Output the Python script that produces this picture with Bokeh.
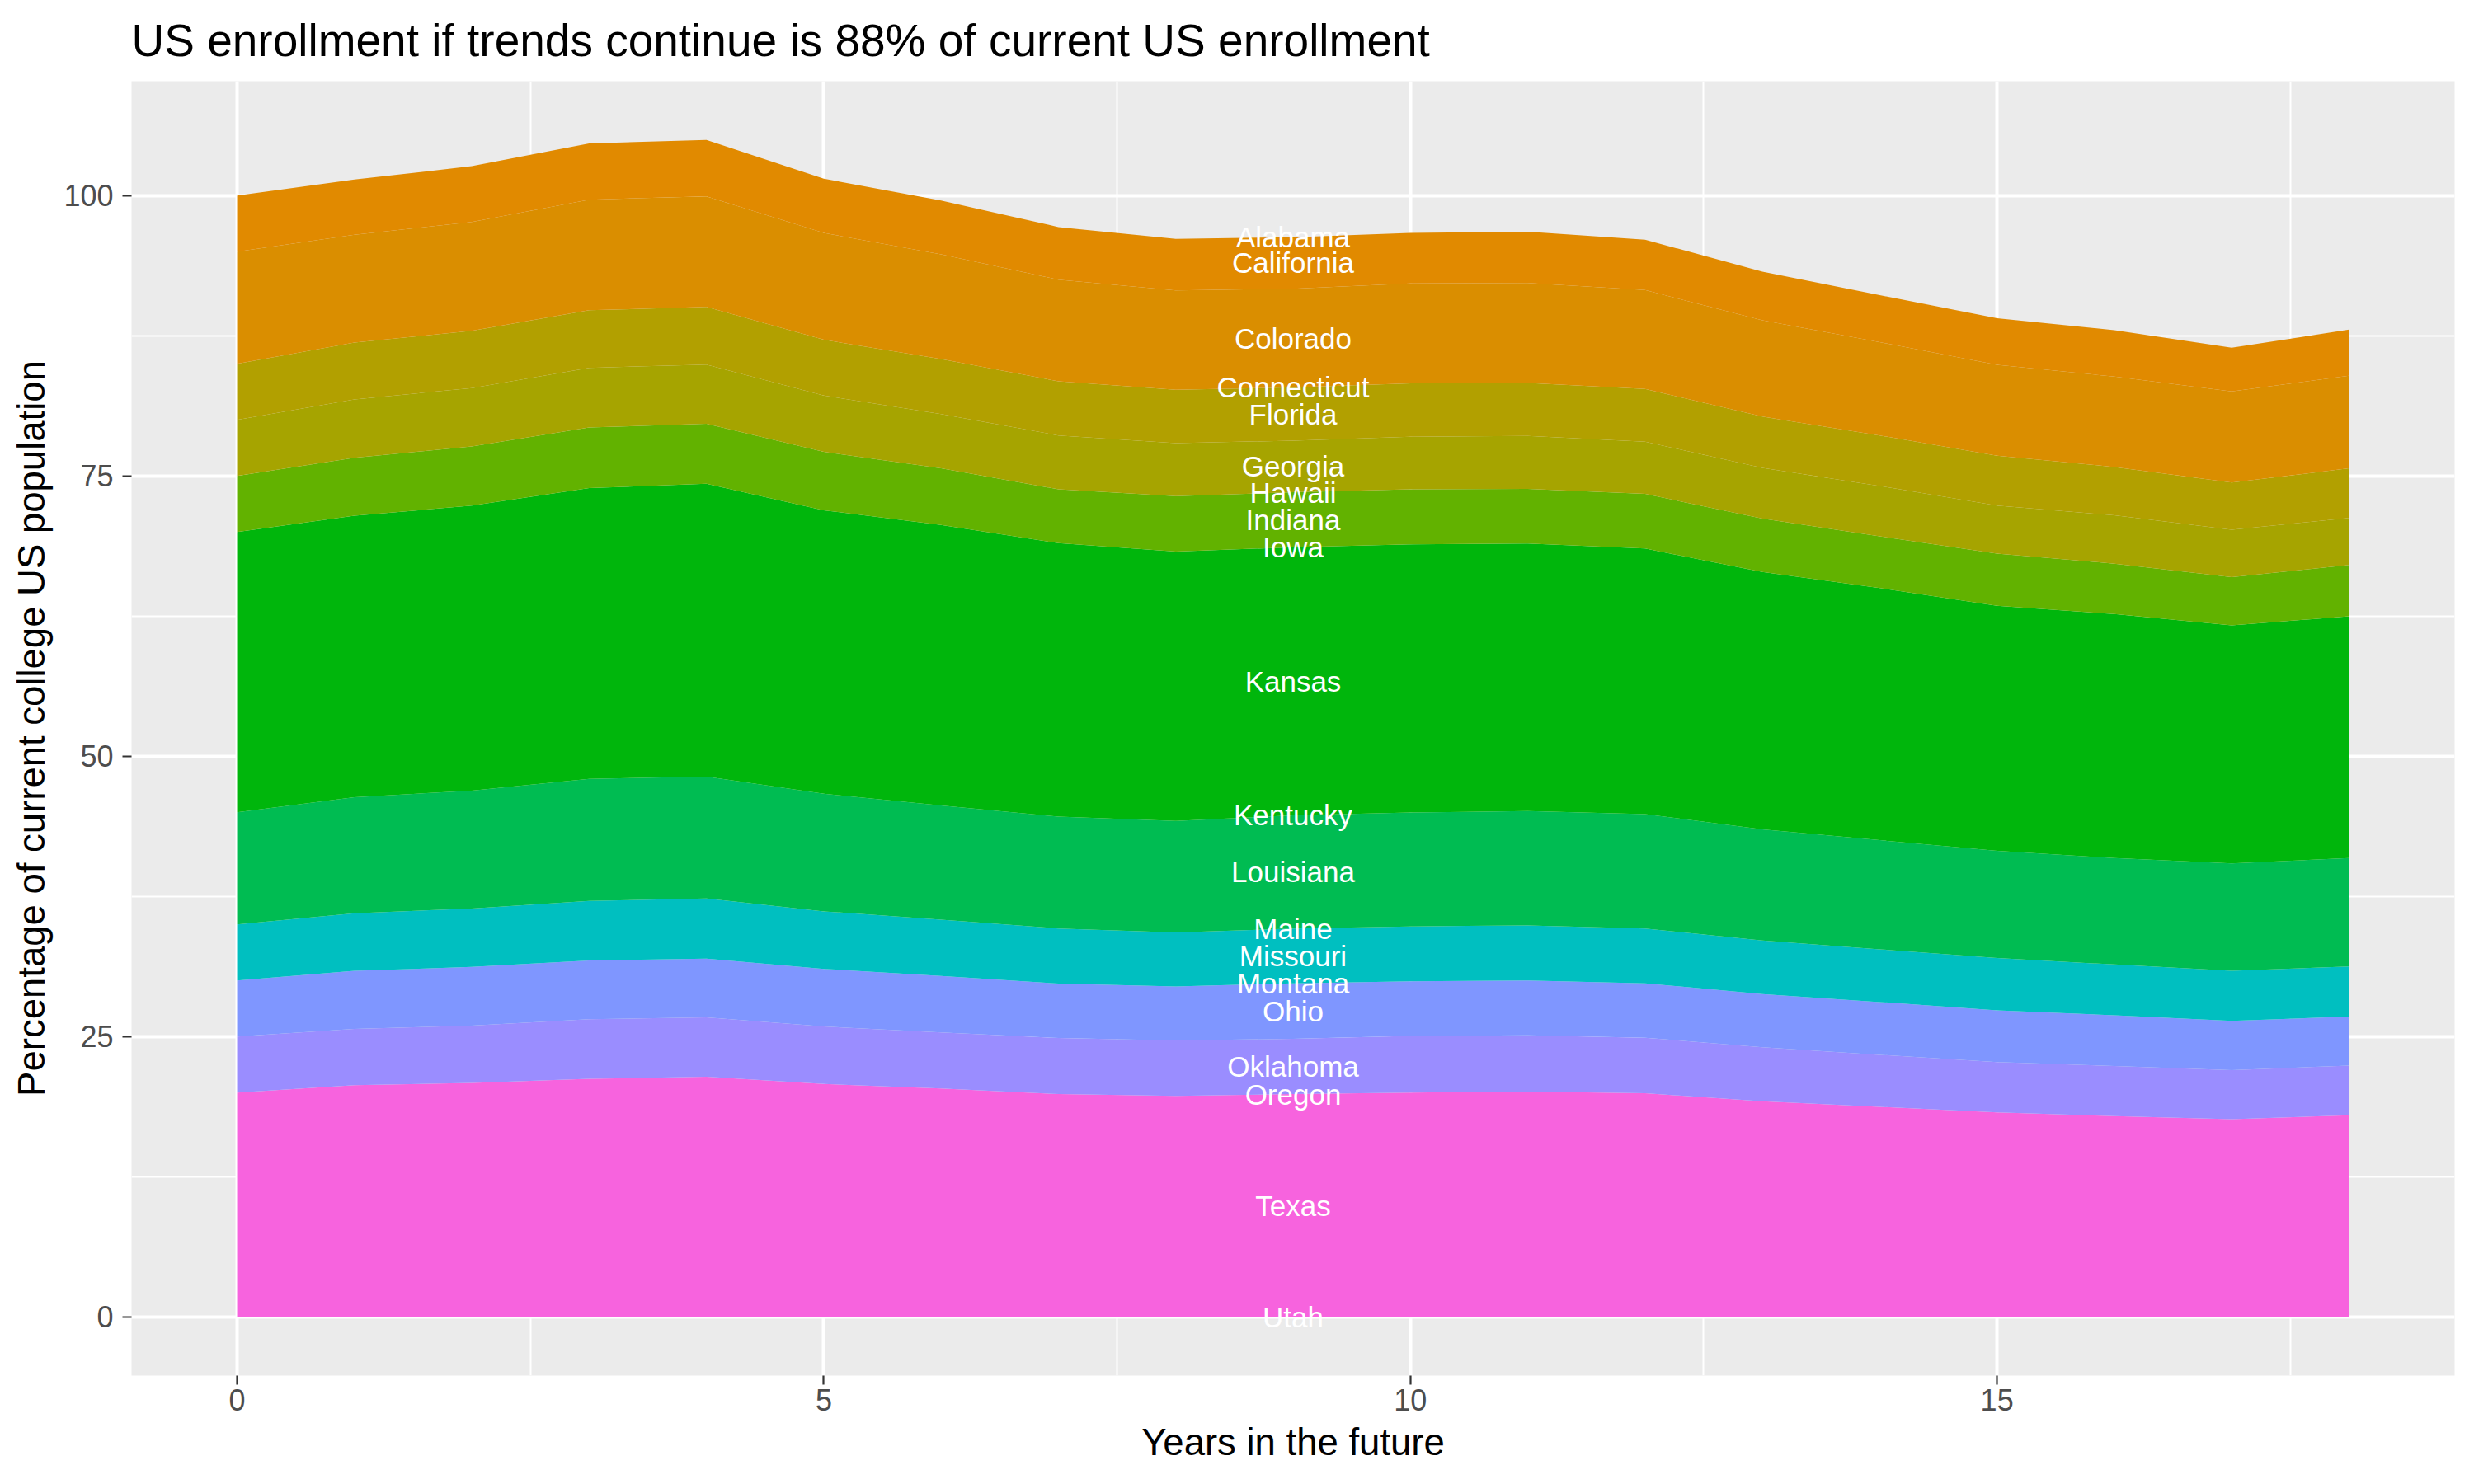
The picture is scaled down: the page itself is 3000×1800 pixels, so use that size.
from bokeh.plotting import figure
from bokeh.models import ColumnDataSource, Range1d, SingleIntervalTicker
from bokeh.embed import file_html
from bokeh.resources import INLINE
from bokeh.core.properties import value

# ---------------- data ----------------
YEARS = [0, 1, 2, 3, 4, 5, 6, 7, 8, 9, 10, 11, 12, 13, 14, 15, 16, 17, 18]

ALABAMA     = [0, 0, 0, 0, 0, 0, 0, 0, 0, 0, 0, 0, 0, 0, 0, 0, 0, 0, 0]
CALIFORNIA  = [5.0, 4.91, 4.98, 5.02, 5.02, 4.84, 4.80, 4.69, 4.61, 4.60, 4.49, 4.58, 4.49, 4.35, 4.20, 4.16, 4.15, 3.90, 4.12]
COLORADO    = [10.0, 9.63, 9.71, 9.86, 9.86, 9.52, 9.33, 9.07, 8.85, 8.80, 8.92, 8.92, 8.81, 8.59, 8.32, 8.10, 8.06, 8.13, 8.25]
CONNECTICUT = [0, 0, 0, 0, 0, 0, 0, 0, 0, 0, 0, 0, 0, 0, 0, 0, 0, 0, 0]
FLORIDA     = [5.0, 5.06, 5.10, 5.14, 5.14, 4.98, 4.91, 4.83, 4.76, 4.75, 4.76, 4.72, 4.72, 4.57, 4.50, 4.46, 4.31, 4.20, 4.42]
GEORGIA     = [5.0, 5.21, 5.21, 5.32, 5.28, 5.02, 4.84, 4.80, 4.72, 4.60, 4.69, 4.72, 4.65, 4.53, 4.50, 4.27, 4.31, 4.23, 4.20]
HAWAII      = [0, 0, 0, 0, 0, 0, 0, 0, 0, 0, 0, 0, 0, 0, 0, 0, 0, 0, 0]
INDIANA     = [5.0, 5.17, 5.28, 5.40, 5.36, 5.21, 5.06, 4.80, 4.95, 4.91, 4.91, 4.87, 4.87, 4.76, 4.60, 4.65, 4.50, 4.31, 4.57]
IOWA        = [0, 0, 0, 0, 0, 0, 0, 0, 0, 0, 0, 0, 0, 0, 0, 0, 0, 0, 0]
KANSAS      = [25.0, 25.11, 25.41, 25.94, 26.11, 25.28, 25.01, 24.40, 24.03, 23.91, 23.92, 23.86, 23.69, 22.95, 22.49, 21.87, 21.76, 21.22, 21.57]
KENTUCKY    = [0, 0, 0, 0, 0, 0, 0, 0, 0, 0, 0, 0, 0, 0, 0, 0, 0, 0, 0]
LOUISIANA   = [10.0, 10.35, 10.52, 10.88, 10.88, 10.49, 10.19, 9.97, 9.95, 10.09, 10.16, 10.20, 10.20, 9.91, 9.74, 9.56, 9.49, 9.59, 9.67]
MAINE       = [0, 0, 0, 0, 0, 0, 0, 0, 0, 0, 0, 0, 0, 0, 0, 0, 0, 0, 0]
MISSOURI    = [5.0, 5.13, 5.21, 5.31, 5.35, 5.13, 5.02, 4.92, 4.81, 4.89, 4.89, 4.92, 4.89, 4.78, 4.70, 4.67, 4.53, 4.46, 4.46]
MONTANA     = [0, 0, 0, 0, 0, 0, 0, 0, 0, 0, 0, 0, 0, 0, 0, 0, 0, 0, 0]
OHIO        = [5.0, 5.17, 5.24, 5.25, 5.24, 5.14, 5.03, 4.85, 4.82, 4.95, 4.88, 4.88, 4.85, 4.74, 4.71, 4.60, 4.53, 4.39, 4.38]
OKLAHOMA    = [5.0, 5.03, 5.10, 5.31, 5.31, 5.13, 5.00, 5.00, 4.95, 4.93, 5.04, 5.03, 4.95, 4.82, 4.64, 4.50, 4.46, 4.38, 4.43]
OREGON      = [0, 0, 0, 0, 0, 0, 0, 0, 0, 0, 0, 0, 0, 0, 0, 0, 0, 0, 0]
TEXAS       = [20.0, 20.65, 20.86, 21.22, 21.40, 20.76, 20.36, 19.86, 19.69, 19.86, 20.00, 20.08, 19.94, 19.22, 18.72, 18.22, 17.90, 17.62, 17.97]
UTAH        = [0, 0, 0, 0, 0, 0, 0, 0, 0, 0, 0, 0, 0, 0, 0, 0, 0, 0, 0]

# stacking order, bottom to top
STATES = ["Utah", "Texas", "Oregon", "Oklahoma", "Ohio", "Montana", "Missouri", "Maine",
          "Louisiana", "Kentucky", "Kansas", "Iowa", "Indiana", "Hawaii", "Georgia",
          "Florida", "Connecticut", "Colorado", "California", "Alabama"]
SERIES = [UTAH, TEXAS, OREGON, OKLAHOMA, OHIO, MONTANA, MISSOURI, MAINE,
          LOUISIANA, KENTUCKY, KANSAS, IOWA, INDIANA, HAWAII, GEORGIA,
          FLORIDA, CONNECTICUT, COLORADO, CALIFORNIA, ALABAMA]
COLORS = ["#FA62DB", "#F763DE", "#A58AFF", "#9A8DFF", "#7F96FF", "#00BBDA", "#00BFC0", "#00BD5F",
          "#00BC52", "#00BA38", "#00B60C", "#3DB700", "#62B200", "#9AA800", "#A6A400",
          "#B2A000", "#CF9400", "#DA8E00", "#E18A00", "#F8766D"]

TITLE = "US enrollment if trends continue is 88% of current US enrollment"
X_LABEL = "Years in the future"
Y_LABEL = "Percentage of current college US population"
LABEL_YEAR_INDEX = 9

FONT = "Liberation Sans"

# ---------------- build ----------------
data = {"year": YEARS}
for name, ser in zip(STATES, SERIES):
    data[name] = ser
source = ColumnDataSource(data)

totals = [sum(s[i] for s in SERIES) for i in range(len(YEARS))]
ymax = max(totals)
xmin, xmax = min(YEARS), max(YEARS)
xpad = 0.05 * (xmax - xmin)
ypad = 0.05 * ymax

p = figure(width=2984, height=1784, output_backend="svg", toolbar_location=None,
           x_range=Range1d(xmin - xpad, xmax + xpad),
           y_range=Range1d(-ypad, ymax + ypad),
           min_border_left=159, min_border_right=8, min_border_top=98, min_border_bottom=116)

p.varea_stack(stackers=STATES, x="year", color=COLORS, source=source)

# labels at band midpoints
lab_y = []
cum = 0.0
for ser in SERIES:
    v = ser[LABEL_YEAR_INDEX]
    lab_y.append(cum + v / 2.0)
    cum += v
lab_x = [YEARS[LABEL_YEAR_INDEX]] * len(STATES)
p.text(x=lab_x, y=lab_y, text=STATES, text_color="white",
       text_font=value(FONT), text_font_size=value("35px"),
       text_align="center", text_baseline="middle")

# styling
p.background_fill_color = "#EBEBEB"
p.border_fill_color = "white"
p.outline_line_color = None

p.title.text = TITLE
p.title.text_font = FONT
p.title.text_font_size = "55px"
p.title.text_font_style = "normal"
p.title.text_color = "black"
p.title.align = "left"
p.title.vertical_align = "top"
p.title.standoff = 34

p.xaxis.ticker = SingleIntervalTicker(interval=5, num_minor_ticks=2)
p.yaxis.ticker = SingleIntervalTicker(interval=25, num_minor_ticks=2)
p.xaxis.axis_label = X_LABEL
p.yaxis.axis_label = Y_LABEL

for ax in (p.xaxis, p.yaxis):
    ax.axis_line_color = None
    ax.major_tick_line_color = "#333333"
    ax.major_tick_line_width = 2.2
    ax.major_tick_out = 11
    ax.major_tick_in = 0
    ax.minor_tick_line_color = None
    ax.major_label_text_font = FONT
    ax.major_label_text_font_size = "36px"
    ax.major_label_text_color = "#4D4D4D"
    ax.axis_label_text_font = FONT
    ax.axis_label_text_font_size = "45.5px"
    ax.axis_label_text_font_style = "normal"
    ax.axis_label_text_color = "black"

p.xaxis.major_label_standoff = 5
p.xaxis.axis_label_standoff = 10
p.yaxis.major_label_standoff = 11
p.yaxis.axis_label_standoff = 10

for g in (p.xgrid, p.ygrid):
    g.grid_line_color = "white"
    g.grid_line_width = 4
    g.minor_grid_line_color = "white"
    g.minor_grid_line_width = 2

open("out.html", "w").write(file_html(p, INLINE))
